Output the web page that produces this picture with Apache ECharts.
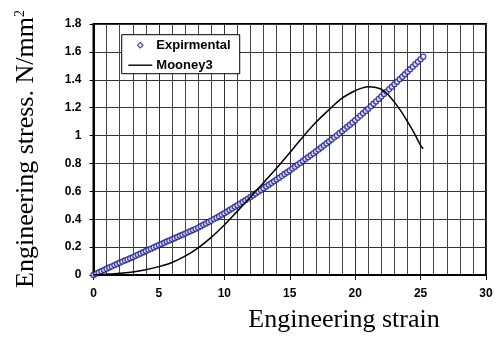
<!DOCTYPE html>
<html><head><meta charset="utf-8">
<script src="https://cdn.jsdelivr.net/npm/echarts@6/dist/echarts.min.js"></script>
<style>html,body{margin:0;padding:0;background:#fff}#c{width:504px;height:337px}</style>
</head><body><div id="c"></div>
<script>
// Experimental data (strain, stress)
var expStrain = [0,0.2,0.4,0.6,0.8,1,1.2,1.4,1.6,1.8,2,2.2,2.4,2.6,2.8,3,3.2,3.4,3.6,3.8,4,4.2,4.4,4.6,4.8,5,5.2,5.4,5.6,5.8,6,6.2,6.4,6.6,6.8,7,7.2,7.4,7.6,7.8,8,8.2,8.4,8.6,8.8,9,9.2,9.4,9.6,9.8,10,10.2,10.4,10.6,10.8,11,11.2,11.4,11.6,11.8,12,12.2,12.4,12.6,12.8,13,13.2,13.4,13.6,13.8,14,14.2,14.4,14.6,14.8,15,15.2,15.4,15.6,15.8,16,16.2,16.4,16.6,16.8,17,17.2,17.4,17.6,17.8,18,18.2,18.4,18.6,18.8,19,19.2,19.4,19.6,19.8,20,20.2,20.4,20.6,20.8,21,21.2,21.4,21.6,21.8,22,22.2,22.4,22.6,22.8,23,23.2,23.4,23.6,23.8,24,24.2,24.4,24.6,24.8,25,25.2];
var expStress = [0,0.009,0.018,0.027,0.036,0.045,0.054,0.062,0.071,0.079,0.088,0.096,0.104,0.112,0.120,0.128,0.137,0.146,0.154,0.163,0.172,0.181,0.189,0.198,0.206,0.215,0.223,0.231,0.240,0.248,0.256,0.264,0.272,0.281,0.289,0.297,0.306,0.314,0.323,0.331,0.340,0.350,0.360,0.370,0.380,0.390,0.401,0.411,0.422,0.432,0.443,0.454,0.466,0.477,0.489,0.500,0.512,0.524,0.536,0.548,0.560,0.572,0.585,0.597,0.610,0.622,0.635,0.647,0.660,0.672,0.685,0.698,0.711,0.724,0.737,0.750,0.764,0.777,0.791,0.804,0.818,0.832,0.845,0.859,0.872,0.886,0.900,0.914,0.929,0.943,0.957,0.972,0.987,1.001,1.016,1.031,1.047,1.063,1.078,1.094,1.110,1.127,1.143,1.160,1.176,1.193,1.210,1.228,1.245,1.263,1.280,1.298,1.315,1.333,1.350,1.368,1.386,1.404,1.422,1.440,1.458,1.476,1.494,1.512,1.530,1.548,1.566];
// Mooney3 model
var mooStrain = [0,1,2,3,4,5,6,7,8,9,10,11,12,13,14,15,16,17,18,19,20,20.5,21,21.5,22,22.5,23,23.5,24,24.5,25,25.2];
var mooStress = [0,0.006,0.013,0.022,0.038,0.06,0.09,0.135,0.195,0.27,0.358,0.458,0.56,0.662,0.767,0.877,0.99,1.095,1.185,1.268,1.322,1.34,1.35,1.347,1.332,1.295,1.24,1.175,1.1,1.02,0.93,0.905];
var xTicks = [0,5,10,15,20,25,30];
var yTicks = [0,0.2,0.4,0.6,0.8,1,1.2,1.4,1.6,1.8];
var seriesNames = ['Expirmental','Mooney3'];
var xTitle = 'Engineering strain';
var yTitle = 'Engineering stress. N/mm';

var expData = expStrain.map(function(x,i){return [x, expStress[i]];});
var mooData = mooStrain.map(function(x,i){return [x, mooStress[i]];});
var blue = '#1a1a94';
var tickFont = {fontFamily:'Liberation Sans, Arial', fontWeight:'bold', fontSize:12, color:'#000'};
var chart = echarts.init(document.getElementById('c'), null, {renderer:'canvas'});
chart.setOption({
  animation:false,
  backgroundColor:'#fff',
  grid:{left:93.5, top:24, right:18, bottom:62, show:true, borderColor:'#000', borderWidth:2, backgroundColor:'transparent'},
  xAxis:{type:'value', min:xTicks[0], max:xTicks[xTicks.length-1], interval:5,
    axisLine:{show:true, onZero:false, lineStyle:{color:'#000', width:2}},
    axisTick:{show:true, length:5, lineStyle:{color:'#000', width:1}},
    axisLabel:Object.assign({margin:13, formatter:function(v){return xTicks.indexOf(v)>=0?String(v):'';}}, tickFont),
    splitLine:{show:true, lineStyle:{color:'#333', width:1}},
    minorTick:{show:false, splitNumber:5},
    minorSplitLine:{show:true, lineStyle:{color:'#444', width:1}}
  },
  yAxis:{type:'value', min:0, max:1.8, interval:0.2,
    axisLine:{show:true, onZero:false, lineStyle:{color:'#000', width:2}},
    axisTick:{show:true, length:4, lineStyle:{color:'#000', width:1}},
    axisLabel:Object.assign({margin:12, formatter:function(v){return String(Math.round(v*10)/10);}}, tickFont),
    splitLine:{show:true, lineStyle:{color:'#333', width:1}}
  },
  legend:{orient:'vertical', left:121.7, top:34.7, padding:[4,9,2,6], itemGap:7, itemWidth:24, itemHeight:8,
    backgroundColor:'#fff', borderColor:'#000', borderWidth:1,
    textStyle:{fontFamily:'Liberation Sans, Arial', fontWeight:'bold', fontSize:13, color:'#000', padding:[0,0,0,-1]},
    data:[{name:seriesNames[0], icon:'path://M0,0M24,8M12,1.3L14.7,4L12,6.7L9.3,4Z', itemStyle:{color:'#fff', borderColor:blue, borderWidth:1.2}},
          {name:seriesNames[1], icon:'path://M0,0M24,8M0,3.3L24,3.3L24,4.7L0,4.7Z', itemStyle:{color:'#000', borderWidth:0}}]
  },
  series:[
    {name:seriesNames[0], type:'scatter', data:expData, symbol:'circle', symbolSize:5,
     itemStyle:{color:'#fff', borderColor:blue, borderWidth:1.4}, z:2},
    {name:seriesNames[1], type:'line', data:mooData, smooth:0.35, symbol:'none', showSymbol:false,
     lineStyle:{color:'#000', width:1.5}, itemStyle:{color:'#000'}, z:3}
  ],
  graphic:[
    {type:'text', x:344, y:320, style:{text:xTitle, font:'26px "Liberation Serif", "Times New Roman", serif', fill:'#000', textAlign:'center', textVerticalAlign:'middle'}},
    {type:'text', x:26.5, y:149, rotation:Math.PI/2,
     style:{text:'{m|'+yTitle+'}{s|2}', textAlign:'center', textVerticalAlign:'middle', fill:'#000',
       rich:{m:{fontFamily:'Liberation Serif, Times New Roman, serif', fontSize:26, fill:'#000'},
             s:{fontFamily:'Liberation Serif, Times New Roman, serif', fontSize:14, verticalAlign:'top', fill:'#000'}}}}
  ]
});
</script></body></html>
